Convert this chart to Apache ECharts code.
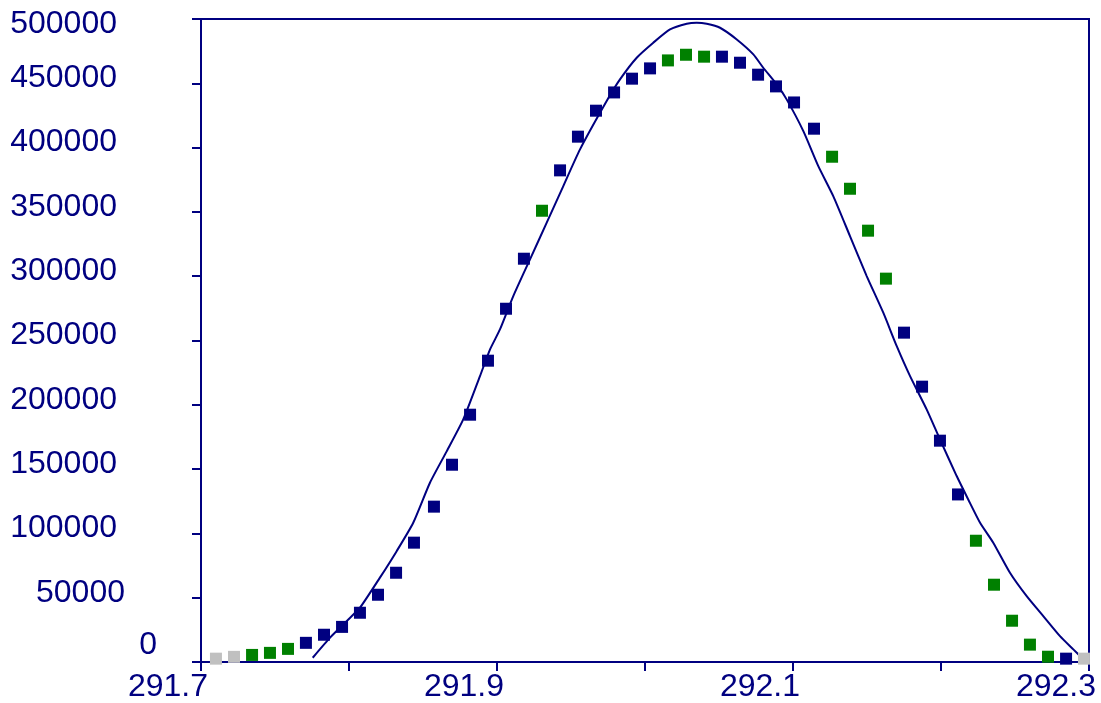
<!DOCTYPE html>
<html>
<head>
<meta charset="utf-8">
<script src="https://cdn.jsdelivr.net/npm/echarts@6/dist/echarts.min.js"></script>
<style>
html,body{margin:0;padding:0;background:#fff;}
#chart{width:1101px;height:703px;}
</style>
</head>
<body>
<div id="chart"></div>
<script>
// ---- data ----
const xTickLabels = ['291.7', '291.9', '292.1', '292.3'];
const yTickLabels = ['0','50000','100000','150000','200000','250000','300000','350000','400000','450000','500000'];

const pointX = [291.7101, 291.7223, 291.7345, 291.7466, 291.7588, 291.7709, 291.7831, 291.7953, 291.8074, 291.8196,
  291.8318, 291.8439, 291.8574, 291.8696, 291.8818, 291.8939, 291.9061, 291.9182, 291.9304, 291.9426,
  291.9547, 291.9669, 291.9791, 291.9912, 292.0034, 292.0155, 292.0277, 292.0399, 292.0520, 292.0642,
  292.0764, 292.0885, 292.1007, 292.1142, 292.1264, 292.1385, 292.1507, 292.1628, 292.1750, 292.1872,
  292.1993, 292.2115, 292.2236, 292.2358, 292.2480, 292.2601, 292.2723, 292.2845, 292.2966];
const pointY = [2600, 4000, 5500, 7100, 10200, 14900, 21200, 27300, 38300, 52300,
  69400, 92800, 120800, 153400, 192300, 234300, 274700, 313600, 350900, 382300,
  408500, 428700, 442900, 453600, 461600, 467800, 472200, 470700, 470700, 466000,
  456700, 447600, 435100, 414700, 392900, 368000, 335400, 298100, 256100, 214100,
  172100, 130300, 94300, 60100, 32100, 13500, 4100, 2600, 2600];
// g = gray, e = green, n = navy
const pointGroup = ['g','g','e','e','e','n','n','n','n','n',
  'n','n','n','n','n','n','n','n','e','n',
  'n','n','n','n','n','e','e','e','n','n',
  'n','n','n','n','e','e','e','e','n','n',
  'n','n','e','e','e','e','e','n','g'];

const curveX = [291.7755, 291.7872, 291.7984, 291.8074, 291.8209, 291.8322, 291.8434, 291.8547, 291.8660, 291.8772,
  291.8885, 291.8953, 291.9020, 291.9110, 291.9223, 291.9336, 291.9448, 291.9561, 291.9741, 291.9831,
  291.9944, 292.0056, 292.0169, 292.0282, 292.0349, 292.0417, 292.0507, 292.0620, 292.0732, 292.0799,
  292.0890, 292.0957, 292.1070, 292.1171, 292.1272, 292.1385, 292.1498, 292.1610, 292.1701, 292.1791,
  292.1903, 292.1993, 292.2106, 292.2184, 292.2264, 292.2353, 292.2466, 292.2579, 292.2691, 292.2804,
  292.2894, 292.2957];
const curveY = [3300, 18900, 31800, 42200, 65600, 86200, 108300, 139400, 163800, 188600,
  222300, 243100, 258600, 284500, 313100, 341600, 370100, 398600, 436200, 453000,
  469900, 481600, 491900, 496300, 497100, 496300, 493200, 484100, 472500, 462100,
  449100, 437500, 412800, 385600, 362300, 331200, 300100, 271600, 245600, 222300,
  196400, 173100, 144600, 126400, 108300, 92800, 69400, 51200, 35700, 20100,
  9800, 2600];

// ---- build chart ----
const NAVY = '#000080';
const groupColor = { g: '#C0C0C0', e: '#008000', n: NAVY };
const FONT = '"Liberation Sans", Arial, sans-serif';

function pts(code) {
  const out = [];
  for (let i = 0; i < pointX.length; i++) if (pointGroup[i] === code) out.push([pointX[i], pointY[i]]);
  return out;
}
const curve = curveX.map((x, i) => [x, curveY[i]]);

const chart = echarts.init(document.getElementById('chart'), null, { renderer: 'canvas' });
const base = { fontSize: 32, fontFamily: FONT, color: NAVY };

function scatter(code) {
  return { type: 'scatter', data: pts(code), symbol: 'rect', symbolSize: 12,
    itemStyle: { color: groupColor[code], opacity: 1 }, emphasis: { disabled: true }, z: 3 };
}

chart.setOption({
  animation: false,
  backgroundColor: '#fff',
  grid: { left: 201, right: 12, top: 19, bottom: 40, show: true, borderColor: NAVY, borderWidth: 2, backgroundColor: '#fff' },
  xAxis: {
    type: 'value', min: 291.7, max: 292.3, interval: 0.1,
    splitLine: { show: false },
    axisLine: { lineStyle: { color: NAVY, width: 2 } },
    axisTick: { show: true, length: 9, lineStyle: { color: NAVY, width: 2 } },
    axisLabel: {
      fontSize: 32, fontFamily: FONT, color: NAVY, margin: 9,
      align: 'right', padding: [0, -7, 0, 0],
      showMinLabel: true, showMaxLabel: true,
      formatter: v => { const s = (+v).toFixed(1); return xTickLabels.indexOf(s) >= 0 ? s : ''; }
    }
  },
  yAxis: {
    type: 'value', min: 0, max: 500000, interval: 50000,
    splitLine: { show: false },
    axisLine: { show: true, lineStyle: { color: NAVY, width: 2 } },
    axisTick: { show: true, length: 9, lineStyle: { color: NAVY, width: 2 } },
    axisLabel: {
      margin: 41, align: 'right', fontSize: 32, fontFamily: FONT, color: NAVY,
      showMinLabel: true, showMaxLabel: true,
      formatter: v => {
        const s = yTickLabels[Math.round(v / 50000)];
        if (s === '0') return '{zero|' + s + '}';
        if (s === '500000') return '{top|' + s + '}';
        if (s.length === 5) return '{five|' + s + '}';
        return '{six|' + s + '}';
      },
      rich: {
        six: Object.assign({ padding: [0, 43, 10, 0] }, base),
        top: Object.assign({ padding: [11, 43, 0, 0] }, base),
        five: Object.assign({ padding: [0, 35, 10, 0] }, base),
        zero: Object.assign({ padding: [0, 3, 34, 0] }, base)
      }
    }
  },
  series: [
    { type: 'line', data: curve, showSymbol: false, symbol: 'none', smooth: 0.2,
      lineStyle: { color: NAVY, width: 2 }, emphasis: { disabled: true }, z: 2 },
    scatter('g'),
    scatter('e'),
    scatter('n')
  ]
});
</script>
</body>
</html>
